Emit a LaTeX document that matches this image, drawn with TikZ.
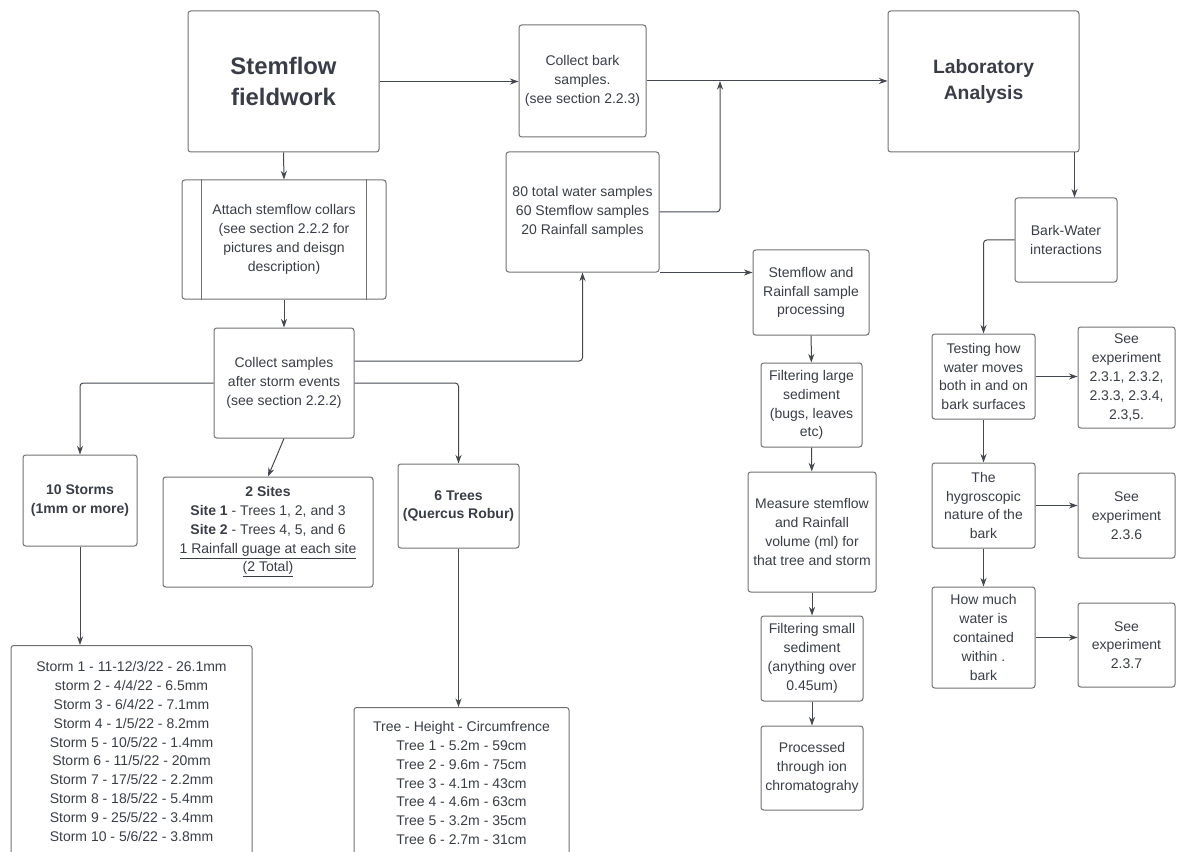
\documentclass[tikz,border=0pt]{standalone}
\usepackage{fontspec}
\setmainfont{Liberation Sans}
\usetikzlibrary{arrows.meta,calc,positioning}
\definecolor{inkgray}{RGB}{56,61,71}
\definecolor{edgegray}{RGB}{112,112,112}
\definecolor{wiregray}{RGB}{68,72,80}
\tikzset{
  box/.style={draw=edgegray,line width=0.75pt,rounded corners=2pt,align=center,
    inner sep=2pt,text=inkgray,font=\fontsize{10.5}{14.1}\selectfont},
  boldbox/.style={box,font=\fontsize{10.5}{14.1}\selectfont\bfseries},
  wire/.style={draw=wiregray,line width=0.75pt,rounded corners=2.5pt}
}

\begin{document}
\begin{tikzpicture}[x=0.75pt,y=-0.75pt,>={Stealth[length=6.5pt,width=4.6pt]}]
  \useasboundingbox (0,0) rectangle (1177,852);
  \clip (0,0) rectangle (1177,852);

  % fieldwork branch
  \node[box,minimum width=143.25pt,minimum height=105.75pt,font=\fontsize{17.9}{23}\selectfont\bfseries] (stem) at (283.5,81.5) {Stemflow\\fieldwork};
  \node[box,minimum width=153pt,minimum height=89.25pt] (attach) at (284,239.5) {Attach stemflow collars\\(see section 2.2.2 for\\pictures and deisgn\\description)};
  \draw[edgegray,line width=0.75pt] ($(attach.north west)+(20,0)$) -- ($(attach.south west)+(20,0)$);
  \draw[edgegray,line width=0.75pt] ($(attach.north east)+(-20,0)$) -- ($(attach.south east)+(-20,0)$);
  \node[box,minimum width=105pt,minimum height=82.5pt] (collect) at (284,383) {Collect samples\\after storm events\\(see section 2.2.2)};

  \node[boldbox,minimum width=85.5pt,minimum height=68.25pt] (storms) at (80,500.5) {10 Storms\\(1mm or more)};
  \node[box,minimum width=157.5pt,minimum height=82.5pt] (sites) at (268,532) {\textbf{2 Sites}\\\textbf{Site 1} - Trees 1, 2, and 3\\\textbf{Site 2} - Trees 4, 5, and 6\\\underline{1 Rainfall guage at each site}\\\underline{(2 Total)}};
  \node[boldbox,minimum width=90.75pt,minimum height=63pt] (trees) at (458.5,506) {6 Trees\\(Quercus Robur)};

  \node[box,minimum width=180.75pt,minimum height=159pt,anchor=north] (stormlist) at (131.5,645) {Storm 1 - 11-12/3/22 - 26.1mm\\storm 2 - 4/4/22 - 6.5mm\\Storm 3 - 6/4/22 - 7.1mm\\Storm 4 - 1/5/22 - 8.2mm\\Storm 5 - 10/5/22 - 1.4mm\\Storm 6 - 11/5/22 - 20mm\\Storm 7 - 17/5/22 - 2.2mm\\Storm 8 - 18/5/22 - 5.4mm\\Storm 9 - 25/5/22 - 3.4mm\\Storm 10 - 5/6/22 - 3.8mm};
  \node[box,minimum width=161.25pt,minimum height=113.25pt,anchor=north] (treelist) at (461.5,707) {Tree - Height - Circumfrence\\Tree 1 - 5.2m - 59cm\\Tree 2 - 9.6m - 75cm\\Tree 3 - 4.1m - 43cm\\Tree 4 - 4.6m - 63cm\\Tree 5 - 3.2m - 35cm\\Tree 6 - 2.7m - 31cm};

  % samples and processing
  \node[box,minimum width=95.25pt,minimum height=84pt] (bark) at (582.5,81) {Collect bark\\samples.\\(see section 2.2.3)};
  \node[box,minimum width=114.75pt,minimum height=90pt] (water) at (582.5,212) {80 total water samples\\60 Stemflow samples\\20 Rainfall samples};
  \coordinate (join) at (720,81);
  \node[box,minimum width=87pt,minimum height=63.75pt] (proc) at (811,292.5) {Stemflow and\\Rainfall sample\\processing};
  \node[box,minimum width=75.75pt,minimum height=63pt] (filtlarge) at (811.5,405) {Filtering large\\sediment\\(bugs, leaves\\etc)};
  \node[box,minimum width=96pt,minimum height=90pt] (measure) at (812,532) {Measure stemflow\\and Rainfall\\volume (ml) for\\that tree and storm};
  \node[box,minimum width=76.5pt,minimum height=63.75pt] (filtsmall) at (812,658.5) {Filtering small\\sediment\\(anything over\\0.45um)};
  \node[box,minimum width=76.5pt,minimum height=63pt] (ion) at (812,768) {Processed\\through ion\\chromatograhy};

  % laboratory branch
  \node[box,minimum width=143.25pt,minimum height=105.75pt,font=\fontsize{14.5}{20}\selectfont\bfseries] (lab) at (983.5,81.5) {Laboratory\\Analysis};
  \coordinate (labout) at ($(lab.south east)+(-5,0)$);
  \node[box,minimum width=76.5pt,minimum height=63pt] (barkwater) at (1066,240) {Bark-Water\\interactions};
  \node[box,minimum width=77.25pt,minimum height=63.75pt] (moves) at (983.5,376.5) {Testing how\\water moves\\both in and on\\bark surfaces};
  \node[box,minimum width=72.75pt,minimum height=75.75pt] (expA) at (1126.5,377.5) {See\\experiment\\2.3.1, 2.3.2,\\2.3.3, 2.3.4,\\2.3,5.};
  \node[box,minimum width=77.25pt,minimum height=63.75pt] (hygro) at (983.5,505.5) {The\\hygroscopic\\nature of the\\bark};
  \node[box,minimum width=72.75pt,minimum height=63.75pt] (expB) at (1126.5,515.5) {See\\experiment\\2.3.6};
  \node[box,minimum width=77.25pt,minimum height=75.75pt] (content) at (983.5,637.5) {How much\\water is\\contained\\within .\hspace{2.4em}\\bark};
  \node[box,minimum width=72.75pt,minimum height=63pt] (expC) at (1126.5,645) {See\\experiment\\2.3.7};

  % connectors
  \draw[wire,->] (stem.south) -- (attach.north);
  \draw[wire,->] (attach.south) -- (collect.north);
  \draw[wire,->] (stem.east) -- (stem.east -| bark.west);
  \draw[wire,->] (bark.east) -- (bark.east -| lab.west);
  \draw[wire,->] (water.east) -| (join);
  \draw[wire,->] ($(collect.east)+(0,-22)$) -| (water.south);
  \draw[wire,->] (water.south east) -- (water.south east -| proc.west);
  \draw[wire,->] (collect.west) -| (storms.north);
  \draw[wire,->] (collect.south) -- (sites.north);
  \draw[wire,->] (collect.east) -| (trees.north);
  \draw[wire,->] (storms.south) -- (storms.south |- stormlist.north);
  \draw[wire,->] (trees.south) -- (trees.south |- treelist.north);
  \draw[wire,->] (proc) -- (filtlarge);
  \draw[wire,->] (filtlarge) -- (measure);
  \draw[wire,->] (measure) -- (filtsmall);
  \draw[wire,->] (filtsmall) -- (ion);
  \draw[wire,->] (labout) -- (labout |- barkwater.north);
  \draw[wire,->] (barkwater.west) -| (moves.north);
  \draw[wire,->] (moves.east) -- (moves.east -| expA.west);
  \draw[wire,->] (moves) -- (hygro);
  \draw[wire,->] (hygro.east) -- (hygro.east -| expB.west);
  \draw[wire,->] (hygro) -- (content);
  \draw[wire,->] (content.east) -- (content.east -| expC.west);
\end{tikzpicture}
\end{document}
